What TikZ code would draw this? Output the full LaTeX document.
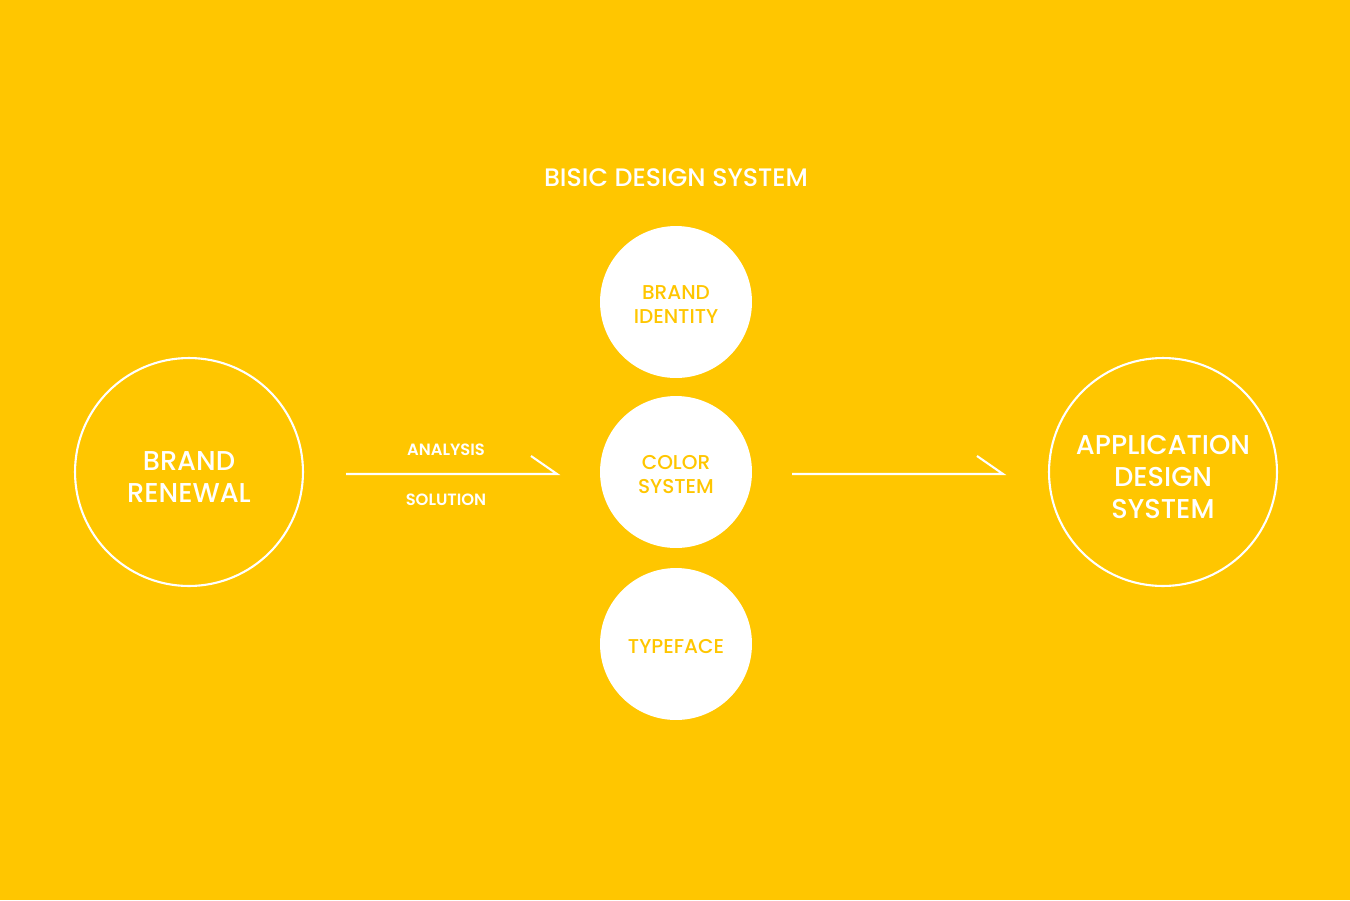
\documentclass[tikz,border=0pt]{standalone}
\usepackage{fontspec}
\setmainfont{Poppins}[UprightFont=* Medium, BoldFont=* SemiBold]
\definecolor{bgyellow}{RGB}{255,198,0}
\tikzset{
    ring/.style={circle, draw=white, line width=1.2pt, minimum size=4.56cm, inner sep=0pt},
    ringtext/.style={text=white, align=center, yshift=-0.1cm, font=\fontsize{15.5}{18.1}\selectfont},
    dot/.style={circle, fill=white, minimum size=3.04cm, inner sep=0pt},
    dottext/.style={text=bgyellow, align=center, yshift=-0.05cm, font=\fontsize{11.4}{13.6}\selectfont},
    flow/.style={white, line width=1.2pt},
    tag/.style={text=white, font=\fontsize{9.3}{10}\selectfont\bfseries}
}
\begin{document}
\begin{tikzpicture}[x=0.02cm, y=-0.02cm]
                        % Background
                        \fill [bgyellow] (0,0) rectangle (1350,900);
                        \useasboundingbox (0,0) rectangle (1350,900);

                        % Title
                        \node [text=white, font=\fontsize{14.4}{16}\selectfont] (title) at (676,178) {BISIC DESIGN SYSTEM};

                        % Circles
                        \node [ring, label={[ringtext]center:BRAND\\RENEWAL}] (renewal) at (189,472) {};
                        \node [dot, label={[dottext]center:BRAND\\IDENTITY}] (identity) at (676,302) {};
                        \node [dot, label={[dottext]center:COLOR\\SYSTEM}] (color) at (676,472) {};
                        \node [dot, label={[dottext]center:TYPEFACE}] (typeface) at (676,644) {};
                        \node [ring, label={[ringtext]center:APPLICATION\\DESIGN\\SYSTEM}] (application) at (1163,472) {};

                        % Arrows
                        \coordinate (leftstart) at (346,474);
                        \coordinate (leftend) at (557,474);
                        \coordinate (rightstart) at (792,474);
                        \coordinate (rightend) at (1003,474);
                        \draw [flow] (leftstart) -- (leftend) -- ++(-26,-18);
                        \draw [flow] (rightstart) -- (rightend) -- ++(-26,-18);

                        % Labels
                        \node [tag] (analysis) at (446,450) {ANALYSIS};
                        \node [tag] (solution) at (446,500) {SOLUTION};
                    \end{tikzpicture}
\end{document}
